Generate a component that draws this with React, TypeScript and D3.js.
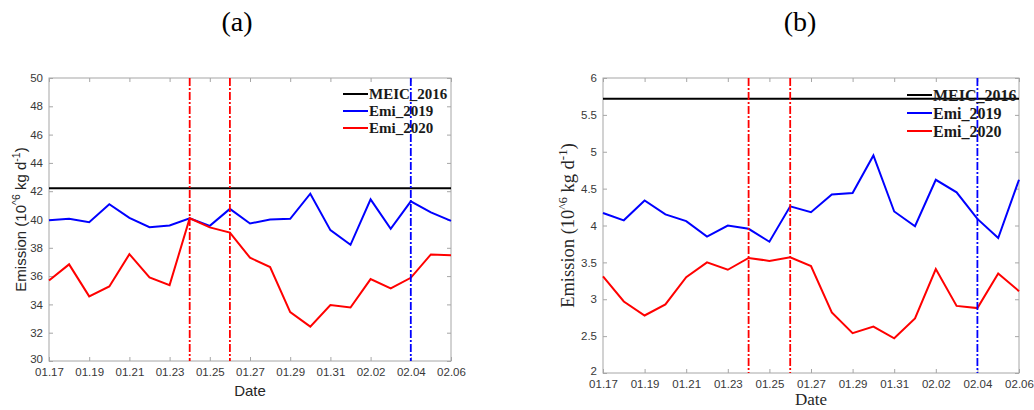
import React, { useEffect, useRef } from 'react';
import * as d3 from 'd3';

const dates = ['01.17', '01.18', '01.19', '01.20', '01.21', '01.22', '01.23', '01.24', '01.25', '01.26', '01.27',
  '01.28', '01.29', '01.30', '01.31', '02.01', '02.02', '02.03', '02.04', '02.05', '02.06'];
const tickDates = dates.filter((d, i) => i % 2 === 0);

// panel (a)
const emi2019A = [39.95, 40.05, 39.81, 41.08, 40.12, 39.46, 39.58, 40.09, 39.55, 40.75, 39.72,
  40.0, 40.05, 41.82, 39.25, 38.21, 41.42, 39.34, 41.28, 40.5, 39.9];
const emi2020A = [35.69, 36.83, 34.57, 35.27, 37.55, 35.9, 35.36, 40.09, 39.44, 39.08, 37.3,
  36.64, 33.45, 32.43, 33.95, 33.78, 35.79, 35.13, 35.88, 37.53, 37.48];
const meicA = 42.2;
const yTicksA = [30, 32, 34, 36, 38, 40, 42, 44, 46, 48, 50];

// panel (b)
const emi2019B = [4.17, 4.07, 4.34, 4.15, 4.06, 3.85, 4.0, 3.955, 3.78, 4.26, 4.18,
  4.42, 4.44, 4.95, 4.19, 3.99, 4.62, 4.45, 4.09, 3.83, 4.62];
const emi2020B = [3.31, 2.97, 2.78, 2.93, 3.3, 3.5, 3.4, 3.56, 3.52, 3.57, 3.45,
  2.82, 2.54, 2.63, 2.47, 2.74, 3.41, 2.91, 2.88, 3.35, 3.11];
const meicB = 5.72;
const yTicksB = [2, 2.5, 3, 3.5, 4, 4.5, 5, 5.5, 6];

// event lines
const redEvents = ['01.24', '01.26'];
const blueEvents = ['02.04'];

const legendNames = ['MEIC_2016', 'Emi_2019', 'Emi_2020'];
const legendColors = ['#000000', '#0000ff', '#ff0000'];

const SANS = 'Arial, "Liberation Sans", sans-serif';
const SERIF = '"Times New Roman", "Liberation Serif", serif';

function drawPanel(svg, p) {
  const g = svg.append('g');
  const x = d3.scalePoint().domain(dates).range([p.left, p.right]);
  const y = d3.scaleLinear().domain(p.yDomain).range([p.bottom, p.top]);

  // box
  g.append('rect')
    .attr('x', p.left).attr('y', p.top)
    .attr('width', p.right - p.left).attr('height', p.bottom - p.top)
    .attr('fill', 'none').attr('stroke', '#a6a6a6').attr('stroke-width', 1);

  const styleAxis = (sel) => {
    sel.select('.domain').remove();
    sel.selectAll('.tick line').attr('stroke', '#a6a6a6');
    sel.selectAll('.tick text').attr('fill', '#383838').attr('font-family', SANS).attr('font-size', 11.5);
  };

  g.append('g').attr('transform', `translate(0,${p.bottom})`)
    .call(d3.axisBottom(x).tickValues(tickDates).tickSize(-4).tickPadding(7))
    .call(styleAxis);
  g.append('g').attr('transform', `translate(0,${p.top})`)
    .call(d3.axisTop(x).tickValues(tickDates).tickSize(-4).tickFormat(() => ''))
    .call(styleAxis);
  g.append('g').attr('transform', `translate(${p.left},0)`)
    .call(d3.axisLeft(y).tickValues(p.yTicks).tickSize(-4).tickPadding(6).tickFormat(d3.format('')))
    .call(styleAxis);
  g.append('g').attr('transform', `translate(${p.right},0)`)
    .call(d3.axisRight(y).tickValues(p.yTicks).tickSize(-4).tickFormat(() => ''))
    .call(styleAxis);

  // lowest y label sits a little higher so it clears the date labels
  g.selectAll('.tick text').filter(d => d === p.yDomain[0]).attr('dy', '0.1em');

  // MEIC line
  g.append('line')
    .attr('x1', p.left).attr('x2', p.right)
    .attr('y1', y(p.meic)).attr('y2', y(p.meic))
    .attr('stroke', '#000').attr('stroke-width', 2);

  const line = d3.line().x((d, i) => x(dates[i])).y(d => y(d));
  g.append('path').datum(p.s2019).attr('d', line)
    .attr('fill', 'none').attr('stroke', '#0000ff').attr('stroke-width', 2);
  g.append('path').datum(p.s2020).attr('d', line)
    .attr('fill', 'none').attr('stroke', '#ff0000').attr('stroke-width', 2);

  // vertical dash-dot lines
  const events = redEvents.map(d => ({ d, c: '#ff0000' })).concat(blueEvents.map(d => ({ d, c: '#0000ff' })));
  g.selectAll('.event').data(events).enter().append('line')
    .attr('x1', e => x(e.d)).attr('x2', e => x(e.d))
    .attr('y1', p.top).attr('y2', p.bottom)
    .attr('stroke', e => e.c).attr('stroke-width', 1.8)
    .attr('stroke-dasharray', '8,2,2,2');

  // legend
  const lg = g.append('g');
  legendNames.forEach((name, i) => {
    const ly = p.legendY + i * p.legendStep;
    lg.append('line')
      .attr('x1', p.legendX).attr('x2', p.legendX + 25)
      .attr('y1', ly).attr('y2', ly)
      .attr('stroke', legendColors[i]).attr('stroke-width', 2);
    lg.append('text')
      .attr('x', p.legendX + 26).attr('y', ly)
      .attr('dy', '0.35em')
      .attr('font-family', SERIF).attr('font-weight', 'bold')
      .attr('font-size', p.legendSize).attr('fill', '#1a1a1a')
      .text(name);
  });

  // axis titles
  const yl = g.append('text')
    .attr('transform', `translate(${p.yLabelX},${(p.top + p.bottom) / 2}) rotate(-90)`)
    .attr('text-anchor', 'middle')
    .attr('font-family', p.labelFont).attr('font-size', p.yLabelSize).attr('fill', '#262626');
  yl.append('tspan').text('Emission (10');
  yl.append('tspan').attr('baseline-shift', 'super').attr('font-size', p.yLabelSize * 0.7).text('^6');
  yl.append('tspan').text(' kg d');
  yl.append('tspan').attr('baseline-shift', 'super').attr('font-size', p.yLabelSize * 0.7).text('-1');
  yl.append('tspan').text(')');

  g.append('text')
    .attr('x', (p.left + p.right) / 2).attr('y', p.dateY)
    .attr('text-anchor', 'middle')
    .attr('font-family', p.labelFont).attr('font-size', p.labelSize).attr('fill', '#262626')
    .text('Date');

  g.append('text')
    .attr('x', p.titleX).attr('y', 31)
    .attr('text-anchor', 'middle')
    .attr('font-family', SERIF).attr('font-size', 28).attr('fill', '#000')
    .text(p.title);
}

const App = () => {
  const ref = useRef(null);

  useEffect(() => {
    const svg = d3.select(ref.current);
    svg.selectAll('*').remove();

    drawPanel(svg, {
      title: '(a)', titleX: 237,
      left: 49, right: 451, top: 78, bottom: 361,
      yDomain: [30, 50], yTicks: yTicksA,
      s2019: emi2019A, s2020: emi2020A, meic: meicA,
      legendX: 343, legendY: 94, legendStep: 17, legendSize: 15,
      labelFont: SANS, labelSize: 15, yLabelSize: 15, yLabelX: 26, dateY: 396,
    });

    drawPanel(svg, {
      title: '(b)', titleX: 800,
      left: 603, right: 1019, top: 78, bottom: 373,
      yDomain: [2, 6], yTicks: yTicksB,
      s2019: emi2019B, s2020: emi2020B, meic: meicB,
      legendX: 907, legendY: 95, legendStep: 18, legendSize: 16,
      labelFont: SERIF, labelSize: 17, yLabelSize: 18.5, yLabelX: 574, dateY: 405,
    });
  }, []);

  return (
    <svg ref={ref} width={1034} height={410}
      style={{ position: 'absolute', left: 0, top: 0, background: '#fff' }} />
  );
};

export default App;
